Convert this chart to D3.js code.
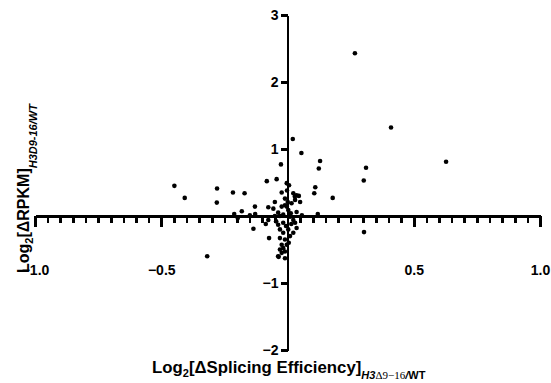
<!DOCTYPE html>
<html>
<head>
<meta charset="utf-8">
<script src="https://cdn.jsdelivr.net/npm/d3@7/dist/d3.min.js"></script>
<style>
  html, body { margin: 0; padding: 0; background: #fff; }
  svg { display: block; font-family: "Liberation Sans", Arial, sans-serif; }
  .axis path, .axis line { stroke: #000; stroke-width: 2.7px; shape-rendering: crispEdges; }
  .axis text { font-size: 14px; font-weight: bold; fill: #000; }
</style>
</head>
<body>
<svg id="chart" width="551" height="383"></svg>
<script>
// Log2 change in splicing efficiency (x) vs log2 change in RPKM (y), one point per gene
const spliceChange = [
  0.267, 0.410, 0.021, 0.055, 0.129, 0.124, 0.628, 0.311, 0.302, 0.110, 0.106, 0.179, 0.120, 0.303, 0.057,
  -0.448, -0.407, -0.279, -0.280, -0.216, -0.170, -0.082, -0.043, -0.026, -0.129, -0.076, -0.211, -0.181,
  -0.197, -0.128, -0.149, -0.135, -0.086, -0.073, -0.318, -0.035,
  -0.003, 0.006, -0.023, 0.023, 0.036, 0.029, -0.010, 0.001, 0.050, -0.050, 0.016, -0.010, -0.056, -0.023,
  -0.003, 0.003, -0.037, 0.036, 0.013, -0.017, 0.045, 0.030, -0.002,
  -0.050, -0.030, 0.010, 0.023, -0.076, -0.037, -0.017, 0.030, 0.036, -0.030, 0.003, -0.017, 0.023, -0.030,
  -0.010, 0.010, -0.023, -0.003, -0.017, -0.030, -0.010, -0.023, -0.037, -0.010, 0.005, -0.006, 0.015, -0.045
];
const rpkmChange = [
  2.43, 1.32, 1.15, 0.94, 0.82, 0.71, 0.81, 0.72, 0.53, 0.43, 0.34, 0.27, 0.03, -0.24, 0.01,
  0.45, 0.27, 0.41, 0.20, 0.35, 0.34, 0.52, 0.55, 0.77, 0.14, 0.13, 0.03, 0.07,
  -0.03, 0.03, 0.01, -0.19, -0.12, -0.33, -0.60, -0.61,
  0.49, 0.46, 0.35, 0.34, 0.31, 0.29, 0.26, 0.21, 0.21, 0.21, 0.19, 0.16, 0.11, 0.14,
  0.14, 0.09, 0.05, 0.06, 0.04, 0.02, 0.30, 0.24, 0.38,
  0.00, 0.00, -0.01, -0.06, -0.06, -0.13, -0.10, -0.10, -0.18, -0.20, -0.20, -0.25, -0.25, -0.33,
  -0.35, -0.30, -0.43, -0.43, -0.48, -0.50, -0.53, -0.55, -0.60, -0.63, -0.40, -0.15, -0.12, -0.08
];

const xMajorTicks = [-1.0, -0.5, 0.5, 1.0];
const xMinorTicks = d3.range(-20, 21).map(i => i / 20);
const yTicks = [-2, -1, 1, 2, 3];

const svg = d3.select("#chart");

const x = d3.scaleLinear().domain([-1, 1]).range([35, 540]);
const y = d3.scaleLinear().domain([-2, 3]).range([350, 15]);

const x0 = x(0), y0 = y(0);

// Horizontal axis crossing at y = 0: minor ticks every 0.05, longer major ticks
svg.append("g")
  .attr("class", "axis")
  .attr("transform", `translate(0,${y0})`)
  .call(d3.axisBottom(x).tickValues(xMinorTicks).tickSize(7).tickSizeOuter(0).tickFormat(""));

const xMajor = svg.append("g")
  .attr("class", "axis")
  .attr("transform", `translate(0,${y0})`)
  .call(d3.axisBottom(x).tickValues(xMajorTicks.concat([0])).tickSize(11).tickSizeOuter(0)
    .tickPadding(38).tickFormat(d => d === 0 ? "" : d3.format(".1f")(d)));
xMajor.select(".domain").remove();

// Vertical axis crossing at x = 0
svg.append("g")
  .attr("class", "axis")
  .attr("transform", `translate(${x0},0)`)
  .call(d3.axisLeft(y).tickValues(yTicks).tickSize(7).tickSizeOuter(0).tickPadding(2)
    .tickFormat(d3.format("d")));

// Points
const pts = spliceChange.map((v, i) => [v, rpkmChange[i]]);
svg.append("g")
  .selectAll("circle")
  .data(pts)
  .join("circle")
  .attr("cx", d => x(d[0]))
  .attr("cy", d => y(d[1]))
  .attr("r", 2.3)
  .attr("fill", "#000");

// X axis title
const xt = svg.append("text")
  .attr("x", 152).attr("y", 373)
  .attr("font-size", 16.8).attr("font-weight", "bold").attr("fill", "#000");
xt.append("tspan").text("Log");
xt.append("tspan").attr("font-size", 11).attr("dy", 4).text("2");
xt.append("tspan").attr("dy", -4).text("[ΔSplicing Efficiency]");
xt.append("tspan").attr("dy", 6).attr("font-size", 11).attr("font-style", "italic").text("H3");
xt.append("tspan").attr("font-size", 11).attr("font-weight", "normal")
  .attr("font-family", "'Liberation Serif', 'Times New Roman', serif").text("Δ9−16");
xt.append("tspan").attr("font-size", 11).attr("font-style", "italic").text("/");
xt.append("tspan").attr("font-size", 11).text("WT");

// Y axis title
const yt = svg.append("text")
  .attr("transform", "translate(29,273) rotate(-90)")
  .attr("font-size", 16).attr("font-weight", "bold").attr("fill", "#000");
yt.append("tspan").text("Log");
yt.append("tspan").attr("font-size", 11).attr("dy", 4).text("2");
yt.append("tspan").attr("dy", -4).text("[ΔRPKM]");
yt.append("tspan").attr("dy", 8).attr("font-size", 11).attr("font-style", "italic").text("H3D9-16/WT");
</script>
</body>
</html>
